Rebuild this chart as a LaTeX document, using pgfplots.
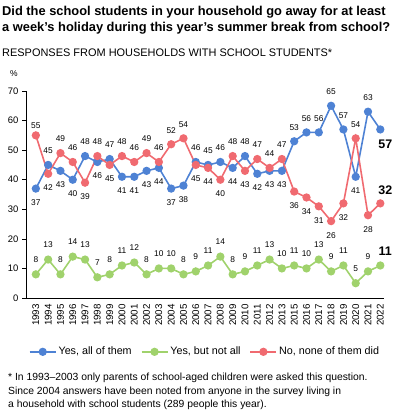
\documentclass[border=0pt]{standalone}
\usepackage{pgfplots}
\pgfplotsset{compat=1.18}
\usepackage{pgfplotstable}
\usepackage{fontspec}
\setmainfont{Liberation Sans}
\definecolor{cblue}{RGB}{78,130,212}
\definecolor{cgreen}{RGB}{160,210,108}
\definecolor{cred}{RGB}{240,106,112}

% x index: 0=1993 ... 20=2013, 21=2015 ... 28=2022 ; dy = label offset (bp)
\pgfplotstableread{
x y dy
0 37 -14
1 45 14
2 43 -14
3 40 -14
4 48 14
5 46 -14
6 47 14
7 41 -14
8 41 -14
9 43 -14
10 44 -14
11 37 -14
12 38 -14
13 46 14
14 45 14
15 46 14
16 44 -14
17 48 14
18 42 -14
19 43 -14
20 43 -14
21 53 14
22 56 14
23 56 14
24 65 14
25 57 14
26 41 -14
27 63 14
28 57 -15
}\blue

\pgfplotstableread{
x y dy
0 8 15
1 13 15
2 8 15
3 14 15
4 13 15
5 7 15
6 8 15
7 11 15
8 12 15
9 8 15
10 10 15
11 10 15
12 8 15
13 9 15
14 11 15
15 14 15
16 8 15
17 9 15
18 11 15
19 13 15
20 10 15
21 11 15
22 10 15
23 13 15
24 9 15
25 11 15
26 5 15
27 9 15
28 11 14
}\green

\pgfplotstableread{
x y dy
0 55 10
1 42 -14
2 49 14
3 46 14
4 39 -14
5 48 14
6 45 -14
7 48 14
8 46 14
9 49 14
10 46 14
11 52 14
12 54 14
13 45 -14
14 44 -14
15 40 -14
16 48 14
17 43 -14
18 47 14
19 44 14
20 47 14
21 36 -14
22 34 -14
23 31 -14
24 26 -14
25 32 -14
26 54 14
27 28 -14
28 32 13
}\red

\begin{document}
\begin{tikzpicture}
\path[use as bounding box] (0,0) rectangle (397bp,-420bp);
\node[anchor=north west, align=left, font=\bfseries\fontsize{12.9}{16.5}\selectfont, inner sep=0pt] at (2bp,-6bp)
  {Did the school students in your household go away for at least\\a week’s holiday during this year’s summer break from school?};
\node[anchor=base west, font=\fontsize{11}{12}\selectfont, inner sep=0pt] at (2bp,-56bp)
  {RESPONSES FROM HOUSEHOLDS WITH SCHOOL STUDENTS*};
\node[anchor=base west, font=\fontsize{8.5}{10}\selectfont, inner sep=0pt] at (10bp,-76bp) {\%};
\begin{axis}[
  at={(26bp,-298bp)}, anchor=south west,
  scale only axis, width=358bp, height=207bp,
  xmin=-0.8, xmax=28.3, ymin=0, ymax=70,
  axis x line=bottom, axis y line=left,
  axis line style={-, black, line width=0.8pt},
  xtick={0,...,28},
  xticklabels={1993,1994,1995,1996,1997,1998,1999,2000,2001,2002,2003,2004,2005,2006,2007,2008,2009,2010,2011,2012,2013,2015,2016,2017,2018,2019,2020,2021,2022},
  xticklabel style={rotate=90, anchor=east, font=\fontsize{9.8}{10}\selectfont, inner sep=2pt},
  xtick style={draw=none},
  ytick={0,10,...,70},
  yticklabel style={font=\fontsize{9.5}{10}\selectfont},
  tick align=outside, major tick length=4bp,
  ytick style={black, line width=0.6pt},
  /pgf/number format/assume math mode=true,
  every axis plot/.append style={line width=1.6pt},
  legend style={at={(0.5,-0.26)}, anchor=center, draw=none, legend columns=3,
    font=\fontsize{10.8}{12}\selectfont,
    /tikz/every even column/.append style={column sep=7bp}},
  legend image code/.code={\draw[mark repeat=2,mark phase=2] plot coordinates {(0cm,0cm) (0.46cm,0cm) (0.92cm,0cm)};},
  clip=false,
]
% lines
\addplot[cblue, mark=*, mark size=3.3bp] table[x=x,y=y] {\blue};
\addlegendentry{Yes, all of them}
\addplot[cgreen, mark=*, mark size=3.3bp] table[x=x,y=y] {\green};
\addlegendentry{Yes, but not all}
\addplot[cred, mark=*, mark size=3.3bp] table[x=x,y=y] {\red};
\addlegendentry{No, none of them did}
% labels
\pgfplotsset{lbl/.style={draw=none, mark=none, forget plot,
    visualization depends on={\thisrow{dy} \as \dy},
    nodes near coords, point meta=y,
    every node near coord/.append style={anchor=center, yshift=\dy bp, black, inner sep=0pt, font=\fontsize{8.4}{9}\selectfont}}}
\pgfplotsset{lblb/.style={draw=none, mark=none, forget plot,
    visualization depends on={\thisrow{dy} \as \dy},
    nodes near coords, point meta=y,
    every node near coord/.append style={anchor=center, xshift=5bp, yshift=\dy bp, black, inner sep=0pt, font=\bfseries\fontsize{12.5}{13}\selectfont}}}
\addplot[lbl, skip coords between index={28}{29}] table[x=x,y=y] {\blue};
\addplot[lbl, skip coords between index={28}{29}] table[x=x,y=y] {\green};
\addplot[lbl, skip coords between index={28}{29}] table[x=x,y=y] {\red};
\addplot[lblb, skip coords between index={0}{28}] table[x=x,y=y] {\blue};
\addplot[lblb, skip coords between index={0}{28}] table[x=x,y=y] {\green};
\addplot[lblb, skip coords between index={0}{28}] table[x=x,y=y] {\red};
\end{axis}
\node[anchor=north west, align=left, font=\fontsize{10.4}{13.5}\selectfont, inner sep=0pt] at (8bp,-373bp)
  {* In 1993–2003 only parents of school-aged children were asked this question.\\
   Since 2004 answers have been noted from anyone in the survey living in\\
   a household with school students (289 people this year).};
\end{tikzpicture}
\end{document}
